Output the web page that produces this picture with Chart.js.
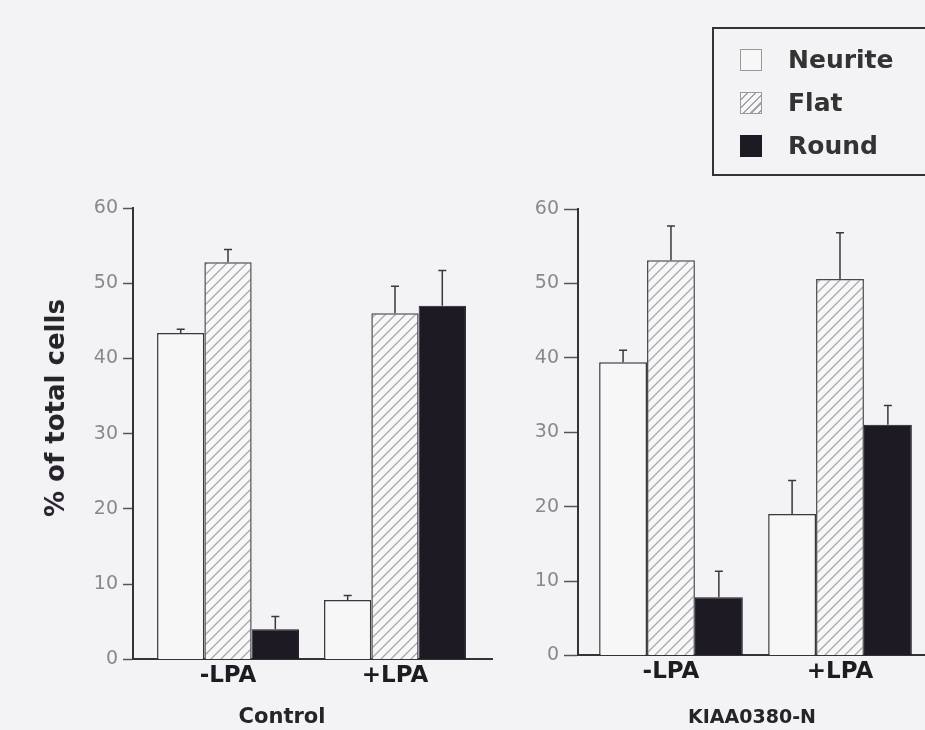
<!DOCTYPE html>
<html>
<head>
<meta charset="utf-8">
<script src="https://cdn.jsdelivr.net/npm/chart.js@4.4.0/dist/chart.umd.min.js"></script>
<style>
    body { margin: 0; background: #f3f2f5; width: 925px; height: 730px; overflow: hidden; position: relative; font-family: "DejaVu Sans", sans-serif; }
    canvas { position: absolute; top: 0; }
    #left { left: 0; }
    #right { left: 470px; }
    .panel-title { position: absolute; font-weight: bold; color: #262428; line-height: 24px; white-space: nowrap; transform: translateX(-50%); top: 704px; }
    #ytitle { position: absolute; left: 55px; top: 408px; font-weight: bold; font-size: 26px; line-height: 1; color: #262428; white-space: nowrap; transform: translate(-50%, -50%) rotate(-90deg); }
    #legend { position: absolute; left: 712px; top: 27px; width: 230px; height: 149px; border: 2px solid #333; box-sizing: border-box; }
    #legend .item { position: absolute; left: 26px; height: 26px; line-height: 26px; font-weight: bold; font-size: 25px; color: #333; white-space: nowrap; }
    #legend .sw { position: absolute; left: 0; top: 2px; width: 22px; height: 22px; box-sizing: border-box; border: 1.5px solid #999; }
    #legend .txt { position: absolute; left: 48px; top: 0; }
    .sw.neurite { background: #f7f7f8; }
    .sw.flat { background: repeating-linear-gradient(135deg, #f7f7f8 0 4px, #a4a4a8 4px 5.5px); }
    .sw.round { background: #1e1a24; border-color: #1e1a24 !important; }
</style>
</head>
<body>
<canvas id="left" width="500" height="730"></canvas>
<canvas id="right" width="455" height="730"></canvas>
<div id="ytitle">% of total cells</div>
<div class="panel-title" style="left:282px; font-size:21px;">Control</div>
<div class="panel-title" style="left:752px; font-size:19px;">KIAA0380-N</div>
<div id="legend">
    <div class="item" style="top:18px;"><span class="sw neurite"></span><span class="txt">Neurite</span></div>
    <div class="item" style="top:61px;"><span class="sw flat"></span><span class="txt">Flat</span></div>
    <div class="item" style="top:104px;"><span class="sw round"></span><span class="txt">Round</span></div>
</div>
<script>
// groups on the x axis
const groups = ['-LPA', '+LPA'];
const yTicks = [0, 10, 20, 30, 40, 50, 60];

// Control panel, % of total cells, and the error (upper bar) sizes
const controlNeurite = [43.4, 7.9];
const controlNeuriteErr = [0.5, 0.6];
const controlFlat = [52.8, 46.0];
const controlFlatErr = [1.7, 3.6];
const controlRound = [4.0, 47.0];
const controlRoundErr = [1.7, 4.7];

// KIAA0380-N panel
const kiaaNeurite = [39.4, 19.0];
const kiaaNeuriteErr = [1.6, 4.5];
const kiaaFlat = [53.1, 50.6];
const kiaaFlatErr = [4.6, 6.2];
const kiaaRound = [7.8, 31.0];
const kiaaRoundErr = [3.5, 2.6];

function makeHatch() {
    const c = document.createElement('canvas');
    c.width = 10; c.height = 10;
    const g = c.getContext('2d');
    g.fillStyle = '#f7f7f8';
    g.fillRect(0, 0, 10, 10);
    g.strokeStyle = '#a9a9ad';
    g.lineWidth = 1.3;
    g.beginPath();
    g.moveTo(0, 10); g.lineTo(10, 0);
    g.moveTo(-1, 1); g.lineTo(1, -1);
    g.moveTo(9, 11); g.lineTo(11, 9);
    g.stroke();
    return g.createPattern(c, 'repeat');
}
const hatch = makeHatch();

// draws the upward error bar on top of each bar
const errorBars = {
    id: 'errorBars',
    afterDatasetsDraw(chart) {
        const ctx = chart.ctx;
        const yScale = chart.scales.y;
        chart.data.datasets.forEach((ds, di) => {
            const meta = chart.getDatasetMeta(di);
            meta.data.forEach((bar, i) => {
                const top = yScale.getPixelForValue(ds.data[i].y + ds.err[i]);
                ctx.save();
                ctx.strokeStyle = '#3a383c';
                ctx.lineWidth = 1.5;
                ctx.beginPath();
                ctx.moveTo(bar.x, bar.y);
                ctx.lineTo(bar.x, top);
                ctx.moveTo(bar.x - 4, top);
                ctx.lineTo(bar.x + 4, top);
                ctx.stroke();
                ctx.restore();
            });
        });
    }
};

function points(values) {
    return values.map((v, i) => ({ x: i, y: v }));
}

function makeChart(id, neurite, neuriteErr, flat, flatErr, round, roundErr, opt) {
    return new Chart(document.getElementById(id), {
        type: 'bar',
        data: {
            datasets: [
                { label: 'Neurite', data: points(neurite), err: neuriteErr, backgroundColor: '#f7f7f8', borderColor: '#3a383c', borderWidth: 1.5 },
                { label: 'Flat', data: points(flat), err: flatErr, backgroundColor: hatch, borderColor: '#4a484c', borderWidth: 1.5 },
                { label: 'Round', data: points(round), err: roundErr, backgroundColor: '#1e1a24', borderColor: '#1e1a24', borderWidth: 1 }
            ]
        },
        options: {
            responsive: false,
            animation: false,
            events: [],
            datasets: { bar: { categoryPercentage: 0.85, barPercentage: 1 } },
            layout: { padding: { left: 0, right: opt.padRight, top: opt.top, bottom: opt.padBottom } },
            plugins: { legend: { display: false }, tooltip: { enabled: false } },
            scales: {
                x: {
                    type: 'linear',
                    offset: false,
                    min: opt.xMin,
                    max: opt.xMax,
                    afterBuildTicks: s => { s.ticks = groups.map((g, i) => ({ value: i })); },
                    ticks: {
                        callback: (v, i) => groups[i],
                        font: { family: 'DejaVu Sans', size: 23, weight: 'bold' },
                        color: '#1e1c20',
                        padding: 3,
                        autoSkip: false,
                        maxRotation: 0
                    },
                    grid: { display: false, drawTicks: false },
                    border: { color: '#333', width: 2 }
                },
                y: {
                    min: 0,
                    max: 60,
                    afterBuildTicks: s => { s.ticks = yTicks.map(v => ({ value: v })); },
                    ticks: {
                        font: { family: 'DejaVu Sans', size: 19 },
                        color: '#8a888d',
                        padding: 5
                    },
                    grid: { drawOnChartArea: false, drawTicks: true, tickLength: opt.tickLen, tickColor: '#555', tickWidth: 1.5 },
                    border: { color: '#333', width: 2 },
                    afterFit: s => { s.width = opt.axisWidth; }
                }
            }
        },
        plugins: [errorBars]
    });
}

makeChart('left', controlNeurite, controlNeuriteErr, controlFlat, controlFlatErr, controlRound, controlRoundErr,
    { xMin: -0.569, xMax: 1.581, axisWidth: 133, padRight: 8, top: 208, padBottom: 37, tickLen: 10 });
makeChart('right', kiaaNeurite, kiaaNeuriteErr, kiaaFlat, kiaaFlatErr, kiaaRound, kiaaRoundErr,
    { xMin: -0.55, xMax: 1.497, axisWidth: 108, padRight: 1, top: 209, padBottom: 41, tickLen: 14 });
</script>
</body>
</html>
